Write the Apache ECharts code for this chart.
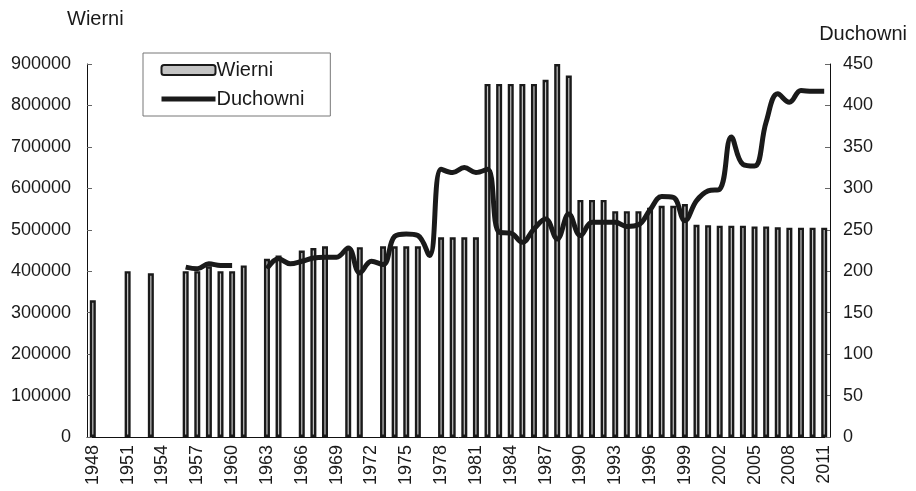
<!doctype html>
<html>
<head>
<meta charset="utf-8">
<title>Wierni i duchowni</title>
<script src="https://cdn.jsdelivr.net/npm/echarts@6/dist/echarts.min.js"></script>
</head>
<body style="margin:0;background:#fff">
<div id="chart" style="width:916px;height:491px;"></div>
<script type="text/javascript">
var years = [];
for (var y = 1948; y <= 2011; y++) years.push(String(y));

// liczba wiernych (lewa oś), null = brak danych
var wierni = [
  330000, null, null, 400000, null, 395000, null, null,
  400000, 400000, 412000, 400000, 400000, 414000, null, 430000,
  438000, null, 450000, 456000, 460000, null, 458000, 458000,
  null, 460000, 460000, 460000, 460000, null, 482000, 482000,
  482000, 482000, 852000, 852000, 852000, 852000, 852000, 862000,
  900000, 872000, 572000, 572000, 572000, 545000, 545000, 545000,
  553000, 558000, 558000, 562000, 512000, 511000, 510000, 510000,
  510000, 508000, 508000, 506000, 505000, 505000, 505000, 505000
];

// liczba duchownych (prawa oś)
var duchowni = [
  null, null, null, null, null, null, null, null,
  205, 203, 209, 207, 207, null, null, 203,
  215, 209, 212, 216, 217, 217, 228, 198,
  212, 208, 242, 245, 243, 219, 323, 319,
  325, 319, 323, 247, 246, 235, 251, 263,
  239, 269, 243, 259, 259, 259, 254, 256,
  274, 290, 289, 261, 285, 297, 299, 362,
  329, 327, 380, 414, 404, 418, 417, 417
];

var chart = echarts.init(document.getElementById('chart'));
var font = 'Liberation Sans, Arial, sans-serif';

chart.setOption({
  animation: false,
  textStyle: {fontFamily: font},
  title: [
    {text: 'Wierni', left: 62, top: 4, textStyle: {fontSize: 20, fontWeight: 'normal', color: '#1a1a1a', fontFamily: font}},
    {text: 'Duchowni', right: 4, top: 19, textStyle: {fontSize: 20, fontWeight: 'normal', color: '#1a1a1a', fontFamily: font}}
  ],
  legend: {
    orient: 'vertical',
    left: 143,
    top: 53,
    padding: [7, 26, 7, 16],
    itemGap: 9,
    itemWidth: 54,
    itemHeight: 10,
    borderColor: '#777',
    borderWidth: 1,
    textStyle: {fontSize: 20, color: '#1a1a1a', fontFamily: font, padding: [0, 0, 0, -4]},
    data: [
      {name: 'Wierni'},
      {name: 'Duchowni', itemStyle: {opacity: 0}, lineStyle: {width: 5, color: '#1a1a1a'}}
    ]
  },
  grid: {left: 87, right: 86, top: 64, bottom: 54},
  xAxis: {
    type: 'category',
    data: years,
    boundaryGap: true,
    axisLine: {lineStyle: {color: '#111', width: 1}},
    axisTick: {interval: 0, length: 6, lineStyle: {color: '#666'}},
    axisLabel: {interval: 2, rotate: 90, fontSize: 18, color: '#1a1a1a', margin: 8}
  },
  yAxis: [
    {
      type: 'value', min: 0, max: 900000, interval: 100000,
      axisLine: {show: true, lineStyle: {color: '#111'}},
      axisTick: {show: true, inside: true, length: 5, lineStyle: {color: '#666'}},
      splitLine: {show: false},
      axisLabel: {fontSize: 18, color: '#1a1a1a', margin: 16, formatter: function (v) { return String(v); }}
    },
    {
      type: 'value', min: 0, max: 450, interval: 50,
      axisLine: {show: true, lineStyle: {color: '#111'}},
      axisTick: {show: true, inside: true, length: 5, lineStyle: {color: '#666'}},
      splitLine: {show: false},
      axisLabel: {fontSize: 18, color: '#1a1a1a', margin: 13}
    }
  ],
  series: [
    {
      name: 'Wierni',
      type: 'bar',
      data: wierni,
      barWidth: 6,
      itemStyle: {color: '#c4c4c4', borderColor: '#1a1a1a', borderWidth: 2.4}
    },
    {
      name: 'Duchowni',
      type: 'line',
      yAxisIndex: 1,
      data: duchowni,
      smooth: 0.4,
      symbol: 'none',
      connectNulls: false,
      lineStyle: {color: '#1a1a1a', width: 5},
      itemStyle: {color: '#1a1a1a'}
    }
  ]
});
</script>
</body>
</html>
